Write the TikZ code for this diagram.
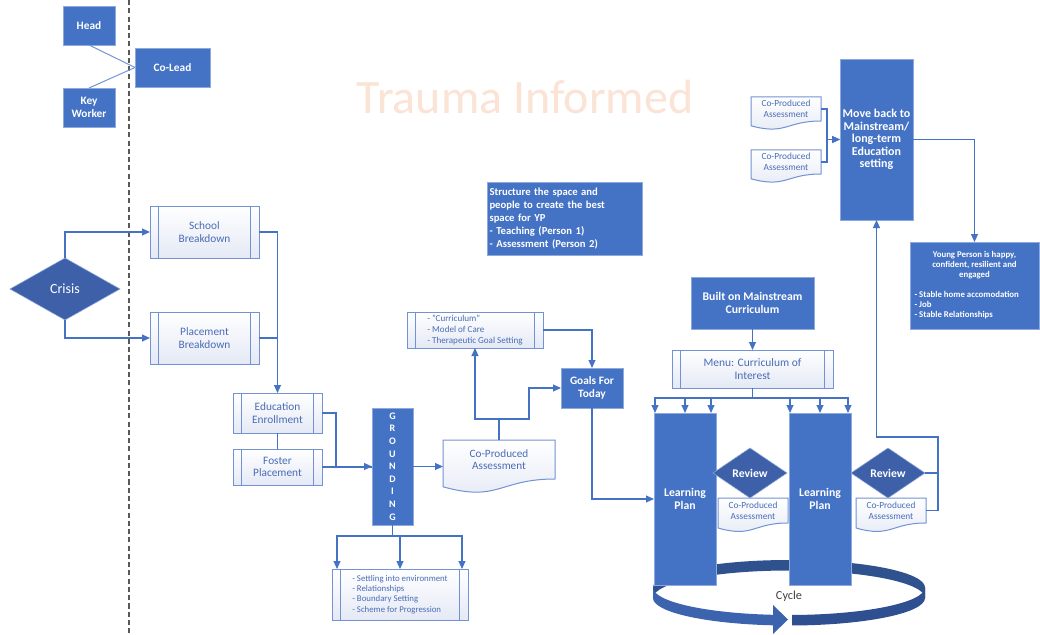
\documentclass[tikz,border=0pt]{standalone}
\usepackage{fontspec}
\setmainfont{Carlito}
\usetikzlibrary{arrows.meta,shapes.geometric,calc}

\definecolor{dark}{HTML}{4472C4}
\definecolor{darkedge}{HTML}{8EA9DB}
\definecolor{darkdia}{HTML}{3D60A9}
\definecolor{edge}{HTML}{7292D4}
\definecolor{conn}{HTML}{4472C4}
\definecolor{thinc}{HTML}{7396D8}
\definecolor{txtb}{HTML}{4A6CB6}
\definecolor{light}{HTML}{E4E9F5}
\definecolor{peach}{HTML}{FBE3D6}
\definecolor{ringback}{HTML}{2F528F}
\definecolor{ringfront}{HTML}{3B63AE}
\definecolor{ringright}{HTML}{2E5090}
\definecolor{divc}{HTML}{595959}
\definecolor{cyc}{HTML}{404040}

\pgfdeclarelayer{bg}
\pgfsetlayers{bg,main}

\tikzset{
  sz/.style 2 args={minimum width=#1*0.75pt, minimum height=#2*0.75pt, inner sep=0pt, outer sep=0pt},
  darkbox/.style={rectangle, fill=dark, draw=darkedge, line width=0.5pt, text=white, align=center,
    font=\fontsize{8.5}{10}\selectfont\bfseries},
  procbox/.style={rectangle, draw=edge, line width=0.75pt, top color=white, bottom color=light,
    text=txtb, align=center, font=\fontsize{8.5}{9.4}\selectfont,
    path picture={\draw[edge, line width=0.6pt]
      ([xshift=6.4pt]path picture bounding box.north west) -- ([xshift=6.4pt]path picture bounding box.south west)
      ([xshift=-6.4pt]path picture bounding box.north east) -- ([xshift=-6.4pt]path picture bounding box.south east);}},
  docnode/.style={rectangle, text=txtb, align=center},
  decision/.style={diamond, fill=darkdia, draw=darkedge, line width=0.4pt, text=white, align=center},
  conline/.style={draw=conn, line width=0.9pt},
  arr/.style={conline, -{Triangle[length=6pt,width=5.2pt]}},
  softline/.style={draw=thinc, line width=0.75pt},
  divider/.style={draw=divc, line width=1.3pt, dash pattern=on 3.8pt off 2.4pt},
}

% document outline (straight top, wavy bottom) around a named node
\newcommand\docshape[1]{%
  \begin{pgfonlayer}{bg}
  \path[draw=edge, line width=0.75pt, top color=white, bottom color=light]
    let \p1=(#1.north west), \p2=(#1.south east) in
    (\x1,\y1) -- (\x2,\y1) -- (\x2,\y2)
    .. controls ({(\x1+\x2)/2},\y2) and ({(\x1+\x2)/2},{\y1-1.6*(\y1-\y2)}) ..
    (\x1,{\y1-1.2*(\y1-\y2)}) -- cycle;
  \end{pgfonlayer}}

\begin{document}
\begin{tikzpicture}[x=0.75pt,y=-0.75pt]
\useasboundingbox (0,0) rectangle (1040,635);
\begin{pgfonlayer}{bg}
\fill[white] (0,0) rectangle (1040,635);
\end{pgfonlayer}

% divider between roles and process
\draw[divider] (129,0) -- (129,635);

% watermark title
\node[text=peach, font=\fontsize{36}{40}\selectfont, inner sep=0pt] (title) at (525,97) {Trauma Informed};

% roles
\node[darkbox, sz={52}{39}] (head) at (89,25.5) {Head};
\node[darkbox, sz={75}{39}] (colead) at (172.5,67.5) {Co-Lead};
\node[darkbox, sz={52}{39}] (keyw) at (89,107.5) {Key\\Worker};

% crisis and breakdowns
\node[decision, sz={110}{62}, font=\fontsize{10.5}{12}\selectfont] (crisis) at (65,289) {Crisis};
\node[procbox, sz={109}{52}] (school) at (204.5,232) {School\\Breakdown};
\node[procbox, sz={109}{52}] (placement) at (204.5,338) {Placement\\Breakdown};
\node[procbox, sz={89}{40}] (educ) at (277.5,413) {Education\\Enrollment};
\node[procbox, sz={89}{36}] (foster) at (277.5,467) {Foster\\Placement};

% grounding
\node[darkbox, sz={41}{117}, font=\fontsize{7.5}{9.45}\selectfont\bfseries] (grounding) at (392.5,466.5)
  {G\\R\\O\\U\\N\\D\\I\\N\\G};
\node[procbox, sz={136}{51}, align=left, font=\fontsize{6.6}{7.7}\selectfont] (glist) at (400,594.5)
  {- Settling into environment\\- Relationships\\- Boundary Setting\\- Scheme for Progression};

% assessment and goals
\node[docnode, sz={112}{39}, font=\fontsize{8.4}{9.5}\selectfont] (coprod) at (499,459.5) {Co-Produced\\Assessment};
\docshape{coprod}
\node[procbox, sz={136}{36}, align=left, font=\fontsize{6.8}{8}\selectfont] (curr) at (475,330)
  {- "Curriculum"\\- Model of Care\\- Therapeutic Goal Setting};
\node[darkbox, sz={62}{40}] (goals) at (592,388) {Goals For\\Today};

\node[darkbox, sz={155}{73}, text width=112.5pt, align=left, font=\fontsize{8}{9.75}\selectfont\bfseries] (structure) at (564.5,218.5)
  {Structure the space and\\people to create the best\\space for YP\\- Teaching (Person 1)\\- Assessment (Person 2)};

% curriculum
\node[darkbox, sz={123}{52}, font=\fontsize{8.8}{10}\selectfont\bfseries] (built) at (752.5,303) {Built on Mainstream\\Curriculum};
\node[procbox, sz={161}{38}, font=\fontsize{8.6}{9.8}\selectfont] (menu) at (752.5,369) {Menu: Curriculum of\\Interest};

% cycle ring, back half
\fill[ringback] (653,587.5) arc[start angle=180, end angle=360, x radius=136, y radius=27.5]
  -- (925,598) arc[start angle=0, end angle=-180, x radius=136, y radius=27.5] -- cycle;

% learning plans
\node[darkbox, sz={62}{172}, font=\fontsize{8.8}{10}\selectfont\bfseries] (lp1) at (685,499) {Learning\\Plan};
\node[darkbox, sz={62}{172}, font=\fontsize{8.8}{10}\selectfont\bfseries] (lp2) at (820,499) {Learning\\Plan};

% cycle ring, front half with arrow
\fill[ringfront] (653,587.5) arc[start angle=180, end angle=96.8, x radius=136, y radius=27.5]
  -- ++(0,10.5) arc[start angle=96.8, end angle=180, x radius=136, y radius=27.5] -- cycle;
\fill[ringfront] (773,605) -- (788,619.5) -- (773,634) -- cycle;
\fill[ringright] (789,587.5) ++(88.7:136 and 27.5) arc[start angle=88.7, end angle=0, x radius=136, y radius=27.5]
  -- ++(0,10.5) arc[start angle=0, end angle=88.7, x radius=136, y radius=27.5] -- cycle;
\node[text=cyc, font=\fontsize{9.2}{10}\selectfont, inner sep=0pt] (cyclelabel) at (789,596) {Cycle};

% reviews
\node[decision, sz={74}{50}, font=\fontsize{8.8}{10}\selectfont\bfseries] (rev1) at (750,473) {Review};
\node[decision, sz={74}{50}, font=\fontsize{8.8}{10}\selectfont\bfseries] (rev2) at (888,473) {Review};
\node[docnode, sz={70}{25}, font=\fontsize{7}{8}\selectfont] (cp1) at (753,510.5) {Co-Produced\\Assessment};
\docshape{cp1}
\node[docnode, sz={70}{25}, font=\fontsize{7}{8}\selectfont] (cp2) at (891,510.5) {Co-Produced\\Assessment};
\docshape{cp2}

% outcome
\node[docnode, sz={70}{24}, font=\fontsize{7}{8}\selectfont] (cpa) at (786,109) {Co-Produced\\Assessment};
\docshape{cpa}
\node[docnode, sz={70}{24}, font=\fontsize{7}{8}\selectfont] (cpb) at (786,162) {Co-Produced\\Assessment};
\docshape{cpb}
\node[darkbox, sz={73}{161}, font=\fontsize{9}{9.4}\selectfont\bfseries] (moveback) at (876.5,139.5)
  {Move back to\\Mainstream/\\long-term\\Education\\setting};
\node[darkbox, sz={129}{87}, text width=90pt, align=none, font=\fontsize{6.6}{7.5}\selectfont\bfseries] (young) at (974.5,285.5)
  {\centering Young Person is happy,\\ confident, resilient and\\ engaged\par\vspace{7.5pt}\raggedright
   - Stable home accomodation\\- Job\\- Stable Relationships\par};

% connectors
\draw[softline] (head.south) -- (colead.west);
\draw[softline] (keyw.north) -- (colead.west);
\draw[arr] (crisis.north) |- (school.west);
\draw[arr] (crisis.south) |- (placement.west);
\draw[arr] (school.east) -| (educ.north);
\draw[conline] (placement.east) -- (placement.east -| educ.north);
\draw[conline] (educ.south) -- (foster.north);
\draw[arr] (educ.east) -- ++(14,0) |- (grounding.west);
\draw[conline] (foster.east) -- (foster.east -| grounding.west);
\draw[arr] (grounding.east) -- (grounding.east -| coprod.west);
\draw[conline] (grounding.south) -- ++(0,11) coordinate (gj);
\draw[arr] (gj) -| ($(glist.north west)+(5,0)$);
\draw[arr] (gj) -| (glist.north);
\draw[arr] (gj) -| ($(glist.north east)+(-6,0)$);
\draw[conline] (coprod.north) -- ++(0,-21) coordinate (cj);
\draw[arr] (cj) -| (curr.south);
\draw[arr] (cj) -- ++(30,0) |- (goals.west);
\draw[arr] (curr.east) -| (goals.north);
\draw[arr] (goals.south) |- (lp1.west);
\draw[arr] (built.south) -- (menu.north);
\draw[conline] (menu.south) -- ++(0,10) coordinate (mj);
\foreach \bx/\dx in {lp1/1, lp1/31, lp1/57, lp2/1, lp2/31, lp2/59}
  \draw[arr] (mj) -| ($(\bx.north west)+(\dx,0)$);
\draw[conline] (rev2.east) -- ++(13,0) coordinate (rj);
\draw[conline] (cp2.east) -| (rj);
\draw[arr] (rj) -- ++(0,-36) -| (moveback.south);
\draw[arr] (cpa.east) -- ++(6,0) |- (moveback.west);
\draw[arr] (cpb.east) -- ++(6,0) |- (moveback.west);
\draw[arr] (moveback.east) -| (young.north);
\end{tikzpicture}
\end{document}
